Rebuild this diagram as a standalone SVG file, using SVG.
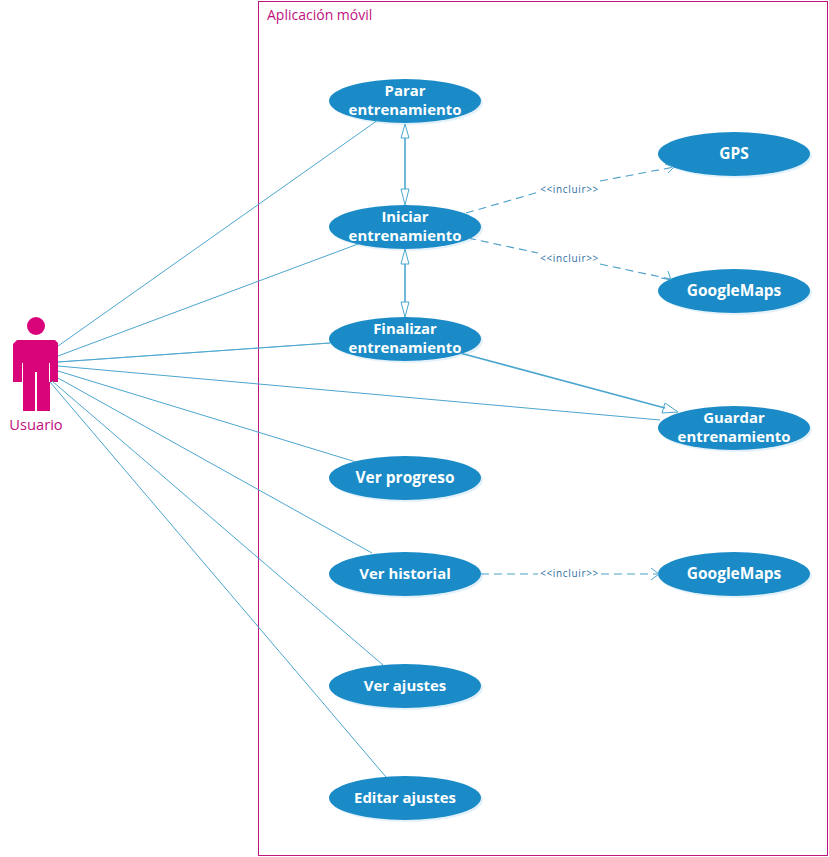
<svg xmlns="http://www.w3.org/2000/svg" width="829" height="857" viewBox="0 0 829 857">
<style>
text{font-family:"Open Sans","Noto Sans","Liberation Sans",sans-serif}
.shadow{fill:#e3f1fa}
.uc{fill:#1a8bc7}
.ucl{fill:#fff;font-size:14.900px;font-weight:700;text-anchor:middle}
.wide{font-size:15.500px}
.assoc{fill:none;stroke:#4ba6ce;stroke-width:1}
.gen{fill:none;stroke:#4ba6ce;stroke-width:1.600}
.dash{fill:none;stroke:#4c9fc8;stroke-width:1.100;stroke-dasharray:8 5}
.head{fill:none;stroke:#4ba6ce;stroke-width:1}
.inc{fill:#2f6f9f;font-size:10px;text-anchor:middle;letter-spacing:.65px}
</style>
<rect width="829" height="857" fill="#fff"/>
<g id="system">
<rect x="258.500" y="1.500" width="569" height="854" fill="none" stroke="#c0117e" stroke-width="1"/>
<text x="267" y="20" font-size="14" fill="#c0117e">Aplicación móvil</text>
</g>
<g id="actor-usuario">
<circle cx="36" cy="326" r="9" fill="#d90479"/>
<path fill="#d90479" d="M17 340H55L58 343V382H50V411H37V372H35V411H23V382H13V344Z"/>
<path d="M22.500 363V382M49.500 363V382M36 372V411" stroke="#fff" stroke-width="1" fill="none"/>
<text x="36" y="430" font-size="14.700" fill="#c0117e" text-anchor="middle">Usuario</text>
</g>
<g id="uc-parar"><ellipse class="shadow" cx="407" cy="103" rx="76" ry="22"/><ellipse class="uc" cx="405" cy="101" rx="76" ry="22"/><text class="ucl" x="405" y="96">Parar</text><text class="ucl" x="405" y="115">entrenamiento</text></g>
<g id="uc-iniciar"><ellipse class="shadow" cx="407" cy="229" rx="76" ry="22"/><ellipse class="uc" cx="405" cy="227" rx="76" ry="22"/><text class="ucl" x="405" y="222">Iniciar</text><text class="ucl" x="405" y="241">entrenamiento</text></g>
<g id="uc-finalizar"><ellipse class="shadow" cx="407" cy="341" rx="76" ry="22"/><ellipse class="uc" cx="405" cy="339" rx="76" ry="22"/><text class="ucl" x="405" y="334">Finalizar</text><text class="ucl" x="405" y="353">entrenamiento</text></g>
<g id="uc-progreso"><ellipse class="shadow" cx="407" cy="480" rx="76" ry="22"/><ellipse class="uc" cx="405" cy="478" rx="76" ry="22"/><text class="ucl wide" x="405" y="483">Ver progreso</text></g>
<g id="uc-historial"><ellipse class="shadow" cx="407" cy="576" rx="76" ry="22"/><ellipse class="uc" cx="405" cy="574" rx="76" ry="22"/><text class="ucl" x="405" y="579">Ver historial</text></g>
<g id="uc-ver-ajustes"><ellipse class="shadow" cx="407" cy="688" rx="76" ry="22"/><ellipse class="uc" cx="405" cy="686" rx="76" ry="22"/><text class="ucl" x="405" y="691">Ver ajustes</text></g>
<g id="uc-editar"><ellipse class="shadow" cx="407" cy="800" rx="76" ry="22"/><ellipse class="uc" cx="405" cy="798" rx="76" ry="22"/><text class="ucl" x="405" y="803">Editar ajustes</text></g>
<g id="uc-gps"><ellipse class="shadow" cx="736" cy="156" rx="76" ry="22"/><ellipse class="uc" cx="734" cy="154" rx="76" ry="22"/><text class="ucl wide" x="734" y="159">GPS</text></g>
<g id="uc-googlemaps-1"><ellipse class="shadow" cx="736" cy="293" rx="76" ry="22"/><ellipse class="uc" cx="734" cy="291" rx="76" ry="22"/><text class="ucl wide" x="734" y="296">GoogleMaps</text></g>
<g id="uc-guardar"><ellipse class="shadow" cx="736" cy="430" rx="76" ry="22"/><ellipse class="uc" cx="734" cy="428" rx="76" ry="22"/><text class="ucl" x="734" y="423">Guardar</text><text class="ucl" x="734" y="442">entrenamiento</text></g>
<g id="uc-googlemaps-2"><ellipse class="shadow" cx="736" cy="576" rx="76" ry="22"/><ellipse class="uc" cx="734" cy="574" rx="76" ry="22"/><text class="ucl wide" x="734" y="579">GoogleMaps</text></g>
<g id="connectors">
<path class="assoc" d="M58 346L378 120M58 356L358 244M58 362L330 343M58 366L660 420M58 371L356 462M58 378L372 553M52 381L383 665M50 382L386 777"/>
<path class="assoc" d="M58 362L330 343" stroke-opacity=".7"/>
<path class="gen" d="M405 138V189M405 264V302"/>
<path class="head" d="M405 124L401 138H409ZM405 205L401 189H409ZM405 249L401 264H409ZM405 317L401 302H409Z"/>
<path class="gen" d="M460 353L665 408" stroke-width="1.400"/>
<path class="head" d="M678 412L665 403L662 413Z"/>
<path class="dash" d="M466 213L539 192M600 181L674 167"/>
<path class="head" d="M665 164L674 167L668 173"/>
<path class="dash" d="M468 238L538 253M600 264L670 279"/>
<path class="head" d="M668 271L671 280L661 278"/>
<path class="dash" d="M481 574H538M601 574H658"/>
<path class="head" d="M651 568L659 574L651 580"/>
<text class="inc" x="569.500" y="193">&lt;&lt;incluir&gt;&gt;</text>
<text class="inc" x="569.500" y="262">&lt;&lt;incluir&gt;&gt;</text>
<text class="inc" x="569.500" y="577">&lt;&lt;incluir&gt;&gt;</text>
</g>
</svg>
